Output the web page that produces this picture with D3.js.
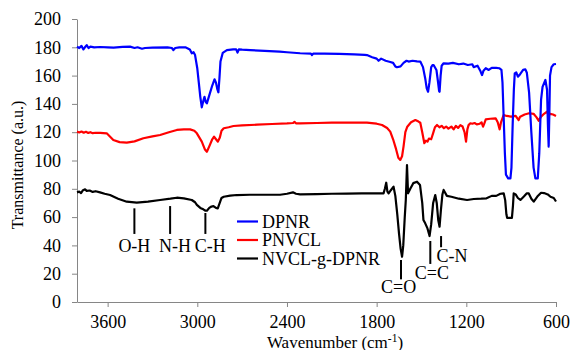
<!DOCTYPE html>
<html>
<head>
<meta charset="utf-8">
<script src="https://cdn.jsdelivr.net/npm/d3@7"></script>
<style>
  body { margin: 0; background: #fff; }
  svg text { font-family: "Liberation Serif", "Times New Roman", "DejaVu Serif", serif; }
</style>
</head>
<body>
<div id="chart"></div>
<script>
// wavenumber (cm-1), transmittance (a.u.)
const dpnr = [
  [3805,180.5],[3790,179.5],[3775,181],[3762,178.5],[3752,180],[3740,181.5],[3728,179.5],[3715,180.5],
  [3690,180],[3650,180.2],[3600,180],[3560,179.8],[3500,180.3],[3450,180.5],[3420,179.5],[3400,180],
  [3370,179],[3350,179.5],[3300,179.8],[3200,180],[3170,179.5],[3160,178],[3148,179.5],[3120,180],
  [3080,180],[3050,178.5],[3037,175.8],[3025,176.5],[3015,174.5],[3000,165],[2990,155],[2980,145],
  [2970,137.6],[2960,142],[2952,145],[2944,141.5],[2936,140.4],[2920,146],[2900,153],[2885,157.4],
  [2875,155],[2865,150],[2859,148.2],[2852,158],[2845,170],[2830,176],[2802,178],[2760,178.5],
  [2740,178.5],[2731,176.2],[2722,178.5],[2700,178.3],[2646,178],[2550,177.5],[2450,177],[2400,176.5],
  [2312,175.8],[2240,175.5],[2233,174.5],[2225,175.5],[2150,175.5],[2050,175.3],[1950,175],[1880,174.7],
  [1865,174.5],[1830,173],[1800,172],[1787,170.5],[1770,172],[1740,170.5],[1709,169.6],[1690,169],
  [1675,166.5],[1664,165.9],[1640,166.5],[1620,169],[1600,170.5],[1586,169.9],[1560,170.5],[1530,170],
  [1508,169.9],[1490,166],[1475,158],[1465,151],[1456,148.6],[1447,155],[1435,166],[1425,167.5],
  [1419,167.5],[1400,164],[1390,156],[1382,149],[1379,148.6],[1372,160],[1365,167],[1352,168.7],
  [1320,168.5],[1290,169],[1250,168],[1220,168.5],[1190,167.5],[1160,168],[1151,166],[1125,167],
  [1105,163],[1095,160.4],[1085,163.5],[1070,165.2],[1050,164],[1030,165.5],[1000,165.5],[980,165.2],
  [965,164],[958,155],[950,130],[942,105],[935,90],[920,87.4],[905,87.4],[898,95],[890,125],[882,150],
  [876,161.6],[866,162.3],[855,159.2],[840,161],[820,164],[805,164.4],[795,162],[780,148],[765,120],
  [750,95],[738,87.4],[722,87.4],[712,105],[700,142.8],[690,152],[671,156.9],[660,150],[654,125],
  [649,109.8],[645,130],[640,160],[630,166],[615,168],[600,168.2]
];

const pnvcl = [
  [3805,120.4],[3790,119.8],[3775,120.5],[3760,119.6],[3745,120.3],[3730,119.5],[3715,120],[3700,119.3],
  [3680,119.6],[3650,119.5],[3606,119.2],[3585,117],[3562,114.5],[3520,113],[3472,112.6],[3420,113.5],
  [3361,115.7],[3300,117],[3249,118],[3190,120],[3137,121.6],[3090,122],[3048,122],[3020,121],
  [3003,119.2],[2985,116],[2970,113.3],[2950,108],[2936,106.2],[2920,110],[2900,115],[2888,116.8],
  [2875,115],[2863,113.3],[2850,116],[2838,121],[2823,122.8],[2790,123.5],[2758,124.4],[2700,124.8],
  [2600,125.3],[2500,125.8],[2400,126.2],[2360,126.5],[2350,127.3],[2340,126.3],[2312,126.3],[2200,126.5],
  [2100,126.7],[2000,126.7],[1900,126.7],[1865,126.7],[1800,126],[1764,125.1],[1730,123],[1709,120.4],
  [1690,115],[1670,108],[1655,102],[1642,100.4],[1630,103],[1620,110],[1608,120],[1595,123.9],
  [1570,127],[1541,128.6],[1520,127.5],[1508,126.7],[1495,120],[1481,112.2],[1470,114],[1460,113.3],
  [1450,115.5],[1435,115],[1420,120],[1410,123.5],[1396,125.1],[1380,123.5],[1365,124.5],[1350,122.8],
  [1335,124],[1320,122.5],[1300,124],[1285,122],[1270,124.5],[1255,123],[1240,125],[1225,124],
  [1212,120],[1202,113.3],[1193,122],[1185,125],[1173,126.3],[1160,126],[1145,126.5],[1130,125.5],
  [1110,126],[1098,127],[1088,123.9],[1080,126],[1070,129.1],[1040,129.5],[1004,129.8],[990,127],
  [977,122],[968,127],[950,132.2],[930,131.5],[900,131],[870,131.5],[850,128.6],[840,131],[810,132.5],
  [780,133.4],[750,133],[730,130.5],[716,128.1],[700,131],[680,133],[660,134.5],[650,132],[640,133],
  [620,132.5],[600,131.5]
];

const nvclgDpnr = [
  [3805,77.5],[3790,78],[3778,77],[3765,79],[3751,79.6],[3740,78.5],[3720,78.8],[3700,77.8],[3680,78.3],
  [3651,77.5],[3620,76.5],[3584,75.6],[3530,73],[3472,70.9],[3405,70.2],[3330,71],[3249,72.1],[3180,73],
  [3137,73.7],[3090,73.2],[3037,72.1],[3015,70.5],[3003,68.6],[2980,66.5],[2960,65.5],[2945,64.5],
  [2936,64.5],[2920,66.5],[2905,67.5],[2892,67.8],[2875,66.5],[2863,66.2],[2850,70],[2838,73.5],
  [2823,74.4],[2780,75.2],[2736,75.6],[2650,75.8],[2550,75.8],[2446,75.8],[2400,76.5],[2360,77.5],
  [2340,76.5],[2312,76.1],[2200,76.3],[2100,76.5],[2000,76.6],[1900,76.7],[1800,76.8],[1754,76.8],
  [1745,80],[1736,84.3],[1728,78],[1720,76.8],[1705,79],[1687,81.5],[1675,75],[1662,62],[1650,48],
  [1640,38],[1630,32],[1622,40],[1612,60],[1605,72.1],[1597,96.8],[1590,76.8],[1575,80],[1555,84],
  [1530,85],[1510,82.7],[1495,70],[1487,58],[1475,55.6],[1460,52],[1446,46.6],[1435,55],[1422,70],
  [1408,75.6],[1398,70],[1388,58],[1379,53.2],[1370,65],[1360,76],[1352,79.2],[1330,75],[1300,74.4],
  [1250,73],[1195,72.1],[1150,72.8],[1100,73],[1065,73.3],[1030,75],[1000,75],[972,76.5],[950,76.8],
  [940,72],[932,62],[927,59.5],[910,59.5],[895,59.5],[888,68],[883,76.8],[870,76],[855,73.5],
  [838,72.1],[815,74.5],[795,76.8],[783,76.8],[765,73],[749,70.9],[725,74.5],[700,77.2],[680,77],
  [655,76],[637,74.4],[615,73.5],[600,71]
];

const seriesNames = ['DPNR', 'PNVCL', 'NVCL-g-DPNR'];
const seriesColors = ['#0000ff', '#ff0000', '#000000'];
const xTicks = [3600, 3000, 2400, 1800, 1200, 600];
const yTicks = [0, 20, 40, 60, 80, 100, 120, 140, 160, 180, 200];

// band markers: wavenumber, marker from/to (a.u.), label position
const bands = [
  { label: 'O-H', wn: 3421, from: 66.2, to: 48.1, labelWn: 3421, labelT: 35.5 },
  { label: 'N-H', wn: 3182, from: 67.8, to: 48.1, labelWn: 3149, labelT: 35.5 },
  { label: 'C-H', wn: 2946, from: 62.9, to: 48.1, labelWn: 2914, labelT: 35.5 },
  { label: 'C=O', wn: 1637, from: 29.7, to: 16.0, labelWn: 1653, labelT: 6.1 },
  { label: 'C=C', wn: 1441, from: 43.1, to: 26.9, labelWn: 1430, labelT: 16.0 },
  { label: 'C-N', wn: 1369, from: 46.6, to: 38.7, labelWn: 1296, labelT: 28.5 }
];

const FONT = '"Liberation Serif", "Times New Roman", "DejaVu Serif", serif';
const width = 571, height = 350;
const margin = { top: 19, right: 15, bottom: 48, left: 77 };

const svg = d3.select('#chart').append('svg')
  .attr('width', width)
  .attr('height', height)
  .attr('font-family', FONT);

const x = d3.scaleLinear()
  .domain([3805, 600])
  .range([margin.left, width - margin.right]);
const y = d3.scaleLinear()
  .domain([0, 200])
  .range([height - margin.bottom, margin.top]);

// axes
const xAxis = svg.append('g')
  .attr('transform', 'translate(0,' + (height - margin.bottom) + ')')
  .call(d3.axisBottom(x).tickValues(xTicks).tickFormat(d3.format('d'))
    .tickSizeInner(5).tickSizeOuter(0).tickPadding(8));
const yAxis = svg.append('g')
  .attr('transform', 'translate(' + margin.left + ',0)')
  .call(d3.axisLeft(y).tickValues(yTicks).tickFormat(d3.format('d'))
    .tickSizeInner(5).tickSizeOuter(0).tickPadding(11));

[xAxis, yAxis].forEach(g => {
  g.attr('font-family', FONT).attr('font-size', 18);
  g.select('.domain').attr('stroke', '#868686').attr('stroke-width', 1);
  g.selectAll('.tick line').attr('stroke', '#868686');
  g.selectAll('.tick text').attr('fill', '#000');
});

// series lines
const line = d3.line()
  .x(d => x(d[0]))
  .y(d => y(d[1]));

const allSeries = [dpnr, pnvcl, nvclgDpnr];
// drawn back to front: black, red, blue
[2, 1, 0].forEach(i => {
  svg.append('path')
    .datum(allSeries[i])
    .attr('fill', 'none')
    .attr('stroke', seriesColors[i])
    .attr('stroke-width', 2.2)
    .attr('stroke-linejoin', 'round')
    .attr('d', line);
});

// band markers
const bandG = svg.append('g');
bandG.selectAll('line')
  .data(bands)
  .enter()
  .append('line')
  .attr('x1', d => x(d.wn))
  .attr('x2', d => x(d.wn))
  .attr('y1', d => y(d.from))
  .attr('y2', d => y(d.to))
  .attr('stroke', '#000')
  .attr('stroke-width', 2);
bandG.selectAll('text')
  .data(bands)
  .enter()
  .append('text')
  .attr('x', d => x(d.labelWn))
  .attr('y', d => y(d.labelT))
  .attr('text-anchor', 'middle')
  .attr('font-size', 18)
  .text(d => d.label);

// legend
const legend = svg.append('g').attr('transform', 'translate(237,221.5)');
seriesNames.forEach((name, i) => {
  const row = legend.append('g').attr('transform', 'translate(0,' + (i * 18.5) + ')');
  row.append('line')
    .attr('x1', 0).attr('x2', 21)
    .attr('stroke', seriesColors[i])
    .attr('stroke-width', 2.2);
  row.append('text')
    .attr('x', 25)
    .attr('dy', '0.35em')
    .attr('font-size', 18)
    .text(name);
});

// axis titles
svg.append('text')
  .attr('transform', 'translate(23,165) rotate(-90)')
  .attr('text-anchor', 'middle')
  .attr('font-size', 16)
  .text('Transmittance (a.u.)');

const xTitle = svg.append('text')
  .attr('x', 335)
  .attr('y', 347.5)
  .attr('text-anchor', 'middle')
  .attr('font-size', 17);
xTitle.append('tspan').text('Wavenumber (cm');
xTitle.append('tspan').attr('dy', -6).attr('font-size', 11.5).text('-1');
xTitle.append('tspan').attr('dy', 6).text(')');
</script>
</body>
</html>
